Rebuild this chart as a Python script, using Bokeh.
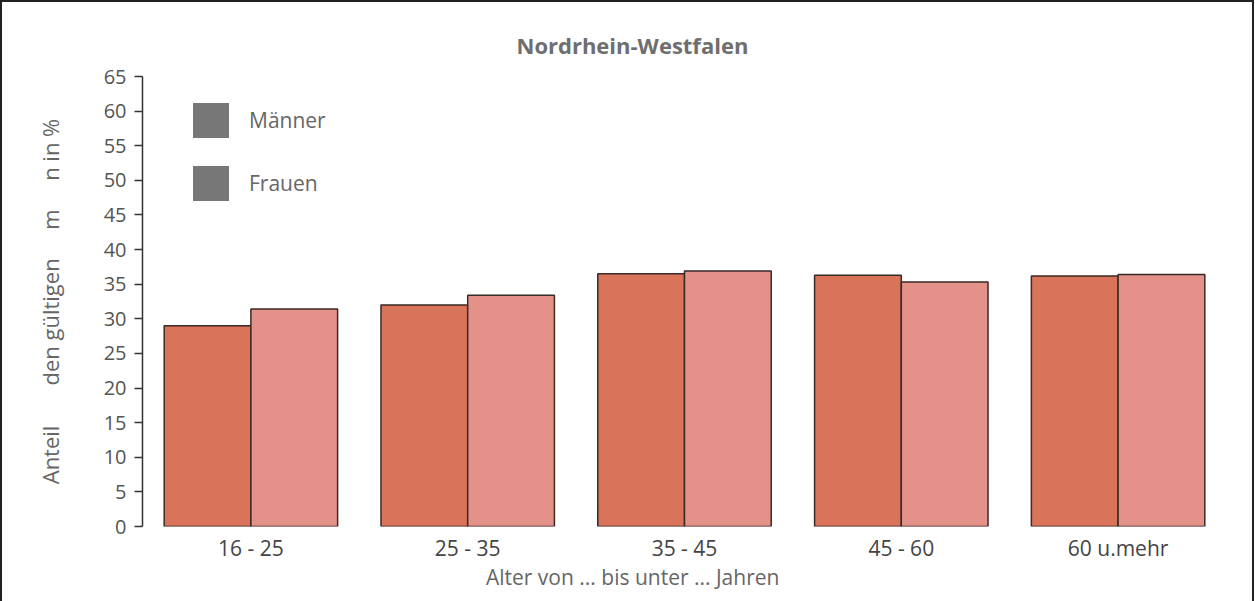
from bokeh.plotting import figure
from bokeh.models import FactorRange, Range1d, Legend, LegendItem, ColumnDataSource, FixedTicker
from bokeh.transform import dodge
from bokeh.embed import file_html
from bokeh.resources import INLINE

categories = ["16 - 25", "25 - 35", "35 - 45", "45 - 60", "60 u.mehr"]
maenner = [29.0, 32.0, 36.5, 36.3, 36.2]
frauen = [31.4, 33.4, 36.9, 35.3, 36.4]
series = ["Männer", "Frauen"]
y_ticks = list(range(0, 70, 5))
title_text = "Nordrhein-Westfalen"
x_label = "Alter von ... bis unter ... Jahren"
NB = "\u00a0"
y_label = "Anteil" + NB * 7 + "den gültigen" + NB * 5 + "m" + NB * 5 + "n in %"

FONT = "Open Sans"
C_M = "#d9735a"
C_F = "#e4918a"
TXT = "#666666"

source = ColumnDataSource(data=dict(cat=categories, m=maenner, f=frauen))

p = figure(x_range=FactorRange(*categories), y_range=Range1d(0, 65),
           width=1254, height=601, output_backend="svg", toolbar_location=None,
           min_border_left=140, min_border_right=30, min_border_top=74, min_border_bottom=77)

p.vbar(x=dodge("cat", -0.2, range=p.x_range), top="m", width=0.4, source=source,
       fill_color=C_M, line_color="#3a2a26", line_width=1.5)
p.vbar(x=dodge("cat", 0.2, range=p.x_range), top="f", width=0.4, source=source,
       fill_color=C_F, line_color="#3a2a26", line_width=1.5)

# legend swatches (grey, as in the reference); zero-size so nothing shows in the plot
gm = p.vbar(x=[categories[0]], top=[0], width=0.0, fill_color="#777777", line_color=None)
gf = p.vbar(x=[categories[0]], top=[0], width=0.0, fill_color="#777777", line_color=None)
legend = Legend(items=[LegendItem(label=series[0], renderers=[gm]),
                       LegendItem(label=series[1], renderers=[gf])],
                location=(46, 321), glyph_width=45, glyph_height=44, spacing=19,
                padding=0, margin=0, label_standoff=16, border_line_color=None,
                background_fill_alpha=0, label_text_font_size="21px",
                label_text_color=TXT, label_text_font=FONT)
p.add_layout(legend)

p.title.text = title_text
p.title.align = "left"
p.title.offset = 374
p.title.text_font = FONT
p.title.text_font_size = "22px"
p.title.text_font_style = "bold"
p.title.text_color = "#6e6e6e"
p.title.standoff = 34

p.xgrid.visible = False
p.ygrid.visible = False
p.outline_line_color = None

ya = p.yaxis[0]
ya.ticker = FixedTicker(ticks=y_ticks)
ya.minor_tick_line_color = None
ya.major_tick_out = 8
ya.major_tick_in = 0
ya.axis_line_color = "#333333"
ya.axis_line_width = 1.5
ya.major_tick_line_color = "#333333"
ya.major_tick_line_width = 1.5
ya.major_label_standoff = 8
ya.major_label_text_font = FONT
ya.major_label_text_font_size = "20px"
ya.major_label_text_color = "#555555"
ya.axis_label = y_label
ya.axis_label_text_font = FONT
ya.axis_label_text_font_size = "22px"
ya.axis_label_text_font_style = "normal"
ya.axis_label_text_color = TXT
ya.axis_label_standoff = 36

xa = p.xaxis[0]
xa.axis_line_color = None
xa.major_tick_line_color = None
xa.minor_tick_line_color = None
xa.major_label_standoff = 1
xa.major_label_text_font = FONT
xa.major_label_text_font_size = "21px"
xa.major_label_text_color = "#444444"
# trailing no-break spaces shift the centred label left, as in the reference
xa.axis_label = x_label + NB * 19
xa.axis_label_text_font = FONT
xa.axis_label_text_font_size = "21px"
xa.axis_label_text_font_style = "normal"
xa.axis_label_text_color = TXT
xa.axis_label_standoff = -2

p.styles = {"border-top": "2px solid #222", "border-left": "2px solid #222",
            "border-right": "2px solid #222", "box-sizing": "border-box"}

open("out.html", "w").write(file_html(p, INLINE))
